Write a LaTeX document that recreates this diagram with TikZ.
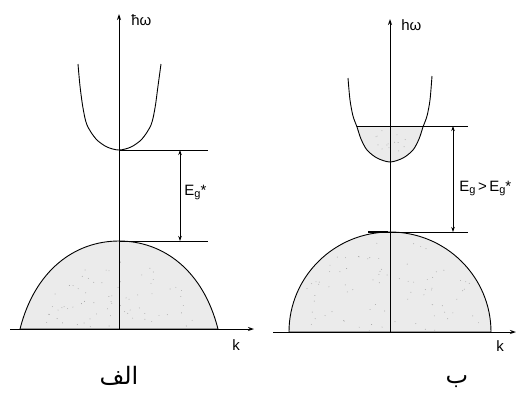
\documentclass[tikz,border=0pt]{standalone}
\usepackage{fontspec}
\setmainfont{Liberation Sans}
\newfontfamily\arabicfont[Script=Arabic]{DejaVu Sans}
\TeXXeTstate=1
\usetikzlibrary{arrows.meta}
\newcommand{\Egsym}{E\raisebox{-2pt}{\fontsize{11}{11}\selectfont g}}
\begin{document}
\begin{tikzpicture}[x=1pt,y=-1pt,line width=0.8pt,
  axisline/.style={line width=1pt,-{Stealth[length=6pt,width=4pt]}},
  gaparrow/.style={line width=0.7pt,{Stealth[length=5pt,width=3.5pt]}-{Stealth[length=5pt,width=3.5pt]}},
  level/.style={line width=0.8pt},
  band/.style={line width=0.9pt},
  bandfill/.style={fill=gray!16},
  stipple/.style={fill=gray!75},
  lbl/.style={font=\fontsize{15}{17}\selectfont,inner sep=0pt},
  arlbl/.style={font=\arabicfont\fontsize{24}{28}\selectfont,inner sep=0pt}]
\useasboundingbox (0,0) rectangle (517,397);
\pgfmathsetseed{7}
% ---------------- left diagram (الف)
\coordinate (LO) at (119,329);
\coordinate (Ltop) at (119,14);
\coordinate (Lkl) at (10,329);
\coordinate (Lkr) at (254,329);
\coordinate (Lc) at (119,150);
\coordinate (Lv) at (119,241);
\coordinate (Lcr) at (208,150);
\coordinate (Lvr) at (208,241);
\coordinate (La1) at (180,150);
\coordinate (La2) at (180,241);
% valence dome
\filldraw[band,bandfill] (20,329) .. controls (35,270) and (75,241) .. (119,241)
  .. controls (163,241) and (203,270) .. (218,329) -- cycle;
\foreach \i in {1,...,70}{
  \pgfmathsetmacro{\th}{180+180*rnd}
  \pgfmathsetmacro{\rr}{0.8*sqrt(rnd)}
  \fill[stipple] ({119+95*\rr*cos(\th)},{329+85*\rr*sin(\th)}) circle[radius=0.45pt];
}
% conduction band
\draw[band] plot[smooth] coordinates {(78,64) (80,86) (83,108) (87,125) (96,139) (107,147) (119,150) (131,147) (142,139) (151,125) (155,108) (158,86) (161,64)};
% axes
\draw[axisline] (LO) -- (Ltop);
\draw[axisline] (Lkl) -- (Lkr);
% levels and gap
\draw[level] (Lc) -- (Lcr);
\draw[level] (Lv) -- (Lvr);
\draw[gaparrow] (La1) -- (La2);
\node[lbl,anchor=west] (Lhw) at (131,20) {ħω};
\node[lbl,anchor=west] (LEg) at (184,192) {\Egsym*};
\node[lbl] (Lk) at (236,345) {k};
\node[arlbl] (Lname) at (119,376) {\beginR الف\endR};
% ---------------- right diagram (ب)
\coordinate (RO) at (390,332);
\coordinate (Rtop) at (390,19);
\coordinate (Rkl) at (273,332);
\coordinate (Rkr) at (516,332);
\coordinate (Rcl) at (357,126);
\coordinate (Rcr) at (468,126);
\coordinate (Rvl) at (368,232);
\coordinate (Rvm) at (388,232);
\coordinate (Rvr) at (468,232);
\coordinate (Ra1) at (453,126);
\coordinate (Ra2) at (453,232);
% valence dome
\filldraw[band,bandfill] (289,332) arc[start angle=180,end angle=360,x radius=101,y radius=100] -- cycle;
\foreach \i in {1,...,80}{
  \pgfmathsetmacro{\th}{180+180*rnd}
  \pgfmathsetmacro{\rr}{0.93*sqrt(rnd)}
  \fill[stipple] ({390+101*\rr*cos(\th)},{332+100*\rr*sin(\th)}) circle[radius=0.45pt];
}
% filled part of conduction band
\def\Rpar{(348,78) (350,100) (353,116) (357,127) (361,139) (367,150) (377,158) (390,162) (403,158) (413,150) (419,139) (423,127) (427,116) (430,100) (432,76)}
\begin{scope}
  \clip (330,126) rectangle (450,170);
  \fill[bandfill] plot[smooth] coordinates {\Rpar} -- cycle;
  \foreach \i in {1,...,14}{
    \fill[stipple] ({372+36*rnd},{130+22*rnd}) circle[radius=0.45pt];
  }
\end{scope}
\draw[band] plot[smooth] coordinates {\Rpar};
% axes
\draw[axisline] (RO) -- (Rtop);
\draw[axisline] (Rkl) -- (Rkr);
% levels and gap
\draw[level] (Rcl) -- (Rcr);
\draw[level] (Rvl) -- (Rvr);
\draw[line width=2pt] (Rvl) -- (Rvm);
\draw[gaparrow] (Ra1) -- (Ra2);
\node[lbl,anchor=west] (Rhw) at (401,25) {hω};
\node[lbl,anchor=west] (REg) at (459,188) {\Egsym\,>\,\Egsym*};
\node[lbl] (Rk) at (500,346) {k};
\node[arlbl] (Rname) at (457,382) {\beginR ب\endR};
\end{tikzpicture}
\end{document}
